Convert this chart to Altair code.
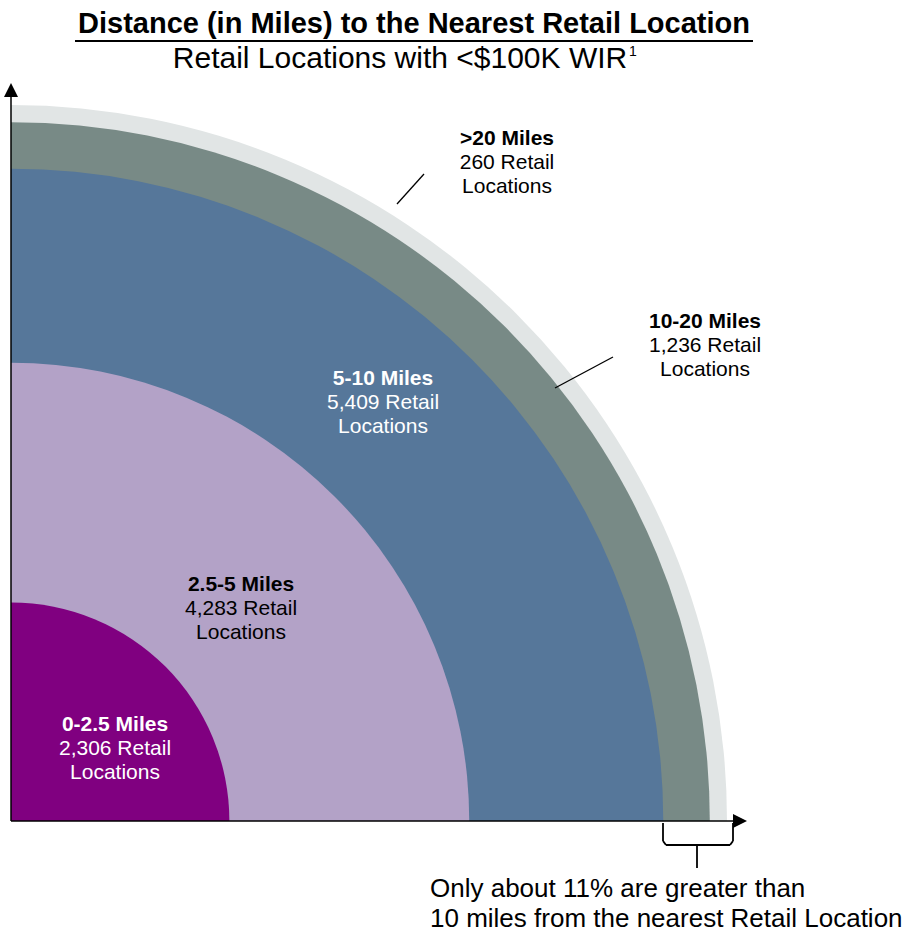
import math
import altair as alt
import pandas as pd

# ---------------- data ----------------
bands = ["0-2.5 Miles", "2.5-5 Miles", "5-10 Miles", "10-20 Miles", ">20 Miles"]
counts = [2306, 4283, 5409, 1236, 260]
# outer radius of each ring relative to the outermost ring
outer_rel = [0.305, 0.64, 0.911, 0.976, 1.0]
colors = ["#800080", "#B3A2C7", "#56779A", "#788A86", "#E1E5E5"]

title_text = "Distance (in Miles) to the Nearest Retail Location"
subtitle_text = "Retail Locations with <$100K WIR"
note_lines = ["Only about 11% are greater than", "10 miles from the nearest Retail Location"]

# ---------------- layout ----------------
W, H = 918, 934
CX, CY = 11, 821          # corner of the quarter circles
R_MAX = 716
FONT = "Liberation Sans"

label_x = [115, 241, 383, 705, 507]
label_y = [725, 585, 379, 322, 139]
label_color = ["white", "black", "white", "black", "black"]
LINE_H = 24

arcs = pd.DataFrame({"band": bands, "outer": outer_rel, "count": counts})

arc_layer = alt.Chart(arcs).mark_arc(theta=0, theta2=math.pi / 2).encode(
    x=alt.value(CX),
    y=alt.value(CY),
    radius=alt.Radius("outer:Q", stack=None,
                      scale=alt.Scale(type="linear", domain=[0, 1], range=[0, R_MAX], zero=True)),
    color=alt.Color("band:N", scale=alt.Scale(domain=bands, range=colors), legend=None),
    order=alt.Order("outer:Q", sort="descending"),
)

rows = []
for b, c, lx, ly, col in zip(bands, counts, label_x, label_y, label_color):
    rows.append({"t": b, "x": lx, "y": ly, "w": "bold", "c": col})
    rows.append({"t": f"{c:,} Retail", "x": lx, "y": ly + LINE_H, "w": "normal", "c": col})
    rows.append({"t": "Locations", "x": lx, "y": ly + 2 * LINE_H, "w": "normal", "c": col})
labels = pd.DataFrame(rows)

def lab(weight):
    return alt.Chart(labels).transform_filter(alt.datum.w == weight).mark_text(
        font=FONT, fontSize=21, fontWeight=weight, baseline="middle", align="center"
    ).encode(
        x=alt.X("x:Q", scale=None),
        y=alt.Y("y:Q", scale=None),
        text="t:N",
        color=alt.Color("c:N", scale=None),
    )

def rule(x1, y1, x2, y2, w=1.5):
    return alt.Chart(pd.DataFrame({"a": [0]})).mark_rule(color="black", strokeWidth=w).encode(
        x=alt.value(x1), y=alt.value(y1), x2=alt.value(x2), y2=alt.value(y2)
    )

def txt(s, x, y, size, weight="normal", align="center", baseline="alphabetic"):
    return alt.Chart(pd.DataFrame({"t": [s]})).mark_text(
        font=FONT, fontSize=size, fontWeight=weight, align=align, baseline=baseline, color="black"
    ).encode(x=alt.value(x), y=alt.value(y), text="t:N")

def arrow(x, y, path, size):
    return alt.Chart(pd.DataFrame({"a": [0]})).mark_point(
        shape=path, filled=True, color="black", size=size, opacity=1, strokeWidth=0
    ).encode(x=alt.value(x), y=alt.value(y))

layers = [
    arc_layer,
    # axes
    rule(CX, CY, CX, 96),
    rule(CX, CY, 734, CY),
    arrow(CX, 90, "M-1,1L0,-1L1,1Z", 196),
    arrow(740, CY, "M-1,-1L1,0L-1,1Z", 196),
    # leader lines
    rule(397, 204, 424, 174, 1.3),
    rule(555, 388, 613, 357, 1.3),
    # bracket
    rule(663, 823, 663, 841, 1.8),
    rule(733, 823, 733, 841, 1.8),
    rule(666, 845, 730, 845, 1.8),
    rule(663, 841, 666, 845, 1.8),
    rule(733, 841, 730, 845, 1.8),
    rule(697, 845, 697, 868, 1.8),
    # labels
    lab("bold"),
    lab("normal"),
    # titles
    txt(title_text, 414, 33, 29, "bold"),
    rule(75, 41, 753, 41, 2),
    txt(subtitle_text, 400, 68, 30),
    txt("1", 629, 56, 14, align="left"),
    txt(note_lines[0], 430, 897, 26, align="left"),
    txt(note_lines[1], 430, 927, 26, align="left"),
]

chart = alt.layer(*layers).properties(
    width=W, height=H, autosize=alt.AutoSizeParams(type="none"), padding=0, background="white"
).configure_view(stroke=None)

chart.save("out.html", embed_options={"renderer": "svg", "actions": False})
